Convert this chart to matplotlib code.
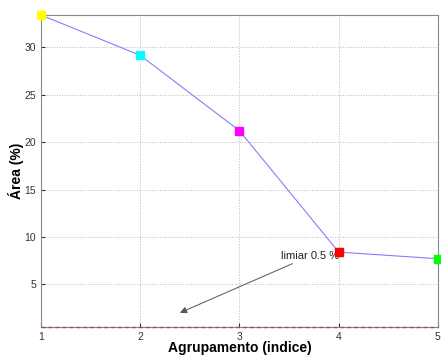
import matplotlib
matplotlib.use("Agg")
import matplotlib.pyplot as plt

plt.rcParams['font.family'] = ['Liberation Sans', 'DejaVu Sans']

groups = [1, 2, 3, 4, 5]
area = [33.4, 29.15, 21.2, 8.4, 7.7]
colors = ['#ffff00', '#00ffff', '#ff00ff', '#ff0000', '#00ff00']
threshold = 0.5
xticks = [1, 2, 3, 4, 5]
yticks = [5, 10, 15, 20, 25, 30]

fig = plt.figure(figsize=(4.41, 3.58), dpi=100)
ax = fig.add_axes([0.093, 0.0866, 0.9, 0.8714])

ax.plot(groups, area, color='#8080ff', lw=0.8, zorder=3)
for x, y, c in zip(groups, area, colors):
    ax.plot([x], [y], marker='s', ms=5.5, color=c, mec=c, ls='none', zorder=4, clip_on=False)
ax.axhline(threshold, color='#b04848', lw=1.0, ls='--', dashes=(3, 2), zorder=3, clip_on=False)

ax.annotate('limiar 0.5 %', xy=(2.4, 2.0), xytext=(3.42, 8.0),
            fontsize=8, va='center', ha='left', color='#222222',
            arrowprops=dict(arrowstyle='-|>', color='#555555', lw=0.7,
                            shrinkA=0, shrinkB=0, mutation_scale=10))

ax.set_xlim(1, 5)
ax.set_ylim(0.5, 33.4)
ax.set_xticks(xticks)
ax.set_yticks(yticks)
ax.grid(True, ls=':', color='#b8b8b8', lw=0.7)
ax.tick_params(direction='in', labelsize=7.5, colors='#333333', length=3)
for s in ax.spines.values():
    s.set_color('#888888')
ax.set_xlabel('Agrupamento (indice)', fontsize=10, fontweight='bold', va='center')
ax.set_ylabel('Área (%)', fontsize=10, fontweight='bold', va='center')
ax.xaxis.set_label_coords(0.5, -0.067)
ax.yaxis.set_label_coords(-0.063, 0.5)

fig.savefig('out.png', dpi=100)
